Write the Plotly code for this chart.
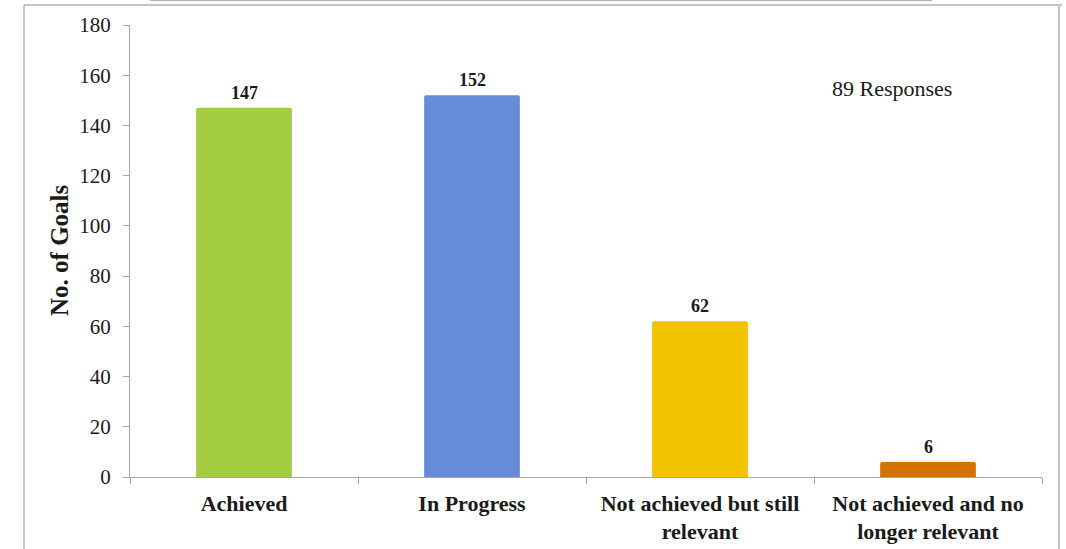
import plotly.graph_objects as go

categories = ["Achieved", "In Progress", "Not achieved but still<br>relevant", "Not achieved and no<br>longer relevant"]
values = [147, 152, 62, 6]
bar_colors = ["#A2CD42", "#668CD9", "#F2C300", "#D47400"]
y_ticks = [0, 20, 40, 60, 80, 100, 120, 140, 160, 180]
note_text = "89 Responses"
y_title = "No. of Goals"

FONT = "Liberation Serif, Times New Roman, serif"
AXIS = "#A6A6A6"

fig = go.Figure()
fig.add_trace(go.Bar(
    x=categories, y=values,
    marker=dict(color=bar_colors, line=dict(width=0), cornerradius=2),
    width=0.42,
    hoverinfo="x+y",
))

# value labels above bars
annotations = [
    dict(x=c, y=v, xref="x", yref="y", text="<b>%d</b>" % v, showarrow=False,
         yanchor="bottom", yshift=3,
         font=dict(family=FONT, size=18, color="#1a1a1a"))
    for c, v in zip(categories, values)
]
annotations += [
    dict(text="<b>" + y_title + "</b>", textangle=-90, xref="paper", yref="paper",
         x=(59 - 130) / 912, y=(477 - 250) / 452, xanchor="center", yanchor="middle", showarrow=False,
         font=dict(family=FONT, size=25, color="#1a1a1a")),
    dict(text=note_text, xref="paper", yref="paper",
         x=(892 - 130) / 912, y=(477 - 88) / 452, xanchor="center", yanchor="middle",
         showarrow=False, font=dict(family=FONT, size=22, color="#1a1a1a")),
]

fig.update_layout(
    width=1066, height=549,
    margin=dict(l=130, r=24, t=25, b=72, autoexpand=False),
    paper_bgcolor="white", plot_bgcolor="white",
    showlegend=False,
    font=dict(family=FONT, color="#1a1a1a"),
    xaxis=dict(
        type="category", automargin=False,
        showline=True, linecolor=AXIS, linewidth=1.3,
        ticks="outside", tickson="boundaries", ticklen=6, tickcolor=AXIS,
        tickfont=dict(family=FONT, size=22, color="#1a1a1a", weight="bold"),
        ticklabelstandoff=6,
        showgrid=False, zeroline=False,
    ),
    yaxis=dict(
        range=[0, 180], tickvals=y_ticks, automargin=False,
        showline=True, linecolor=AXIS, linewidth=1.3,
        ticks="outside", ticklen=6, tickcolor=AXIS,
        tickfont=dict(family=FONT, size=21, color="#1a1a1a"),
        ticklabelstandoff=8,
        showgrid=False, zeroline=False,
    ),
    annotations=annotations,
    shapes=[
        # frame lines around the chart image
        dict(type="line", xref="paper", yref="paper", x0=(24 - 130) / 912, x1=(24 - 130) / 912,
             y0=(477 - 5) / 452, y1=(477 - 560) / 452, line=dict(color="#9a9a9a", width=1)),
        dict(type="line", xref="paper", yref="paper", x0=(24 - 130) / 912, x1=(1062 - 130) / 912,
             y0=(477 - 5) / 452, y1=(477 - 5) / 452, line=dict(color="#8a8a8a", width=1)),
        dict(type="line", xref="paper", yref="paper", x0=(1059 - 130) / 912, x1=(1059 - 130) / 912,
             y0=(477 - 5) / 452, y1=(477 - 560) / 452, line=dict(color="#c4c4c4", width=2)),
        dict(type="line", xref="paper", yref="paper", x0=(150 - 130) / 912, x1=(932 - 130) / 912,
             y0=(477 - 0.5) / 452, y1=(477 - 0.5) / 452, line=dict(color="#b0b0b0", width=1)),
    ],
)

fig.write_html("out.html", config={"displayModeBar": False},
               post_script="document.body.style.margin='0';document.body.style.overflow='hidden';")
